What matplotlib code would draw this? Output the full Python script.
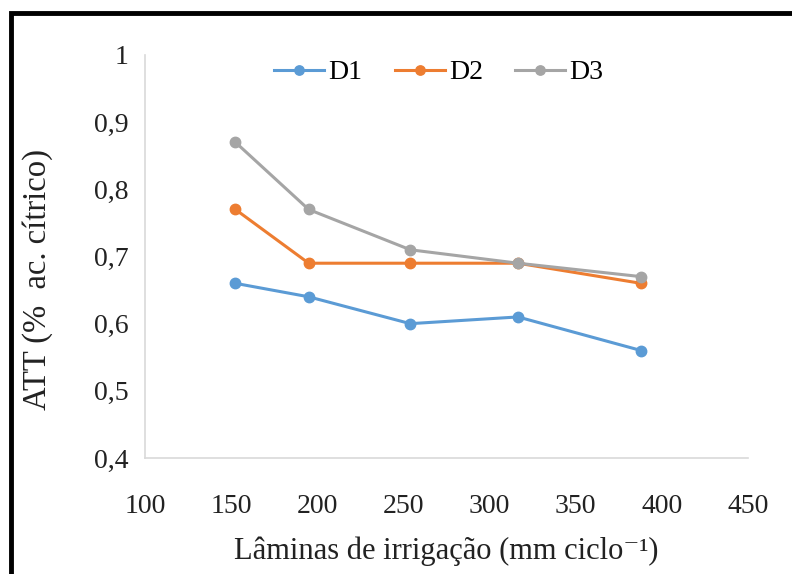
import matplotlib
matplotlib.use('Agg')
import matplotlib.pyplot as plt
from matplotlib.patches import Rectangle

plt.rcParams['font.family'] = ['Liberation Serif', 'DejaVu Serif']

# Lâminas de irrigação (mm ciclo-1)
laminas = [152.5, 195, 254, 316.5, 388]
d1 = [0.66, 0.64, 0.60, 0.61, 0.56]
d2 = [0.77, 0.69, 0.69, 0.69, 0.66]
d3 = [0.87, 0.77, 0.71, 0.69, 0.67]
x_ticks = [100, 150, 200, 250, 300, 350, 400, 450]
y_ticks = [0.4, 0.5, 0.6, 0.7, 0.8, 0.9, 1.0]
y_labels = ['0,4', '0,5', '0,6', '0,7', '0,8', '0,9', '1']

fig = plt.figure(figsize=(7.92, 5.74), dpi=100)
ax = fig.add_axes([0.1831, 0.2021, 0.7613, 0.7021])

ax.plot(laminas, d1, color='#5B9BD5', lw=2.2, marker='o', ms=7.5, label='D1')
ax.plot(laminas, d2, color='#ED7D31', lw=2.2, marker='o', ms=7.5, label='D2')
ax.plot(laminas, d3, color='#A5A5A5', lw=2.2, marker='o', ms=7.5, label='D3')

ax.set_xlim(100, 450)
ax.set_ylim(0.4, 1.0)
ax.set_xticks(x_ticks)
ax.set_yticks(y_ticks)
ax.set_yticklabels(y_labels)
ax.tick_params(length=0, labelsize=20, pad=12, colors='#222222')
ax.tick_params(axis='x', pad=26)

for s in ['top', 'right']:
    ax.spines[s].set_visible(False)
for s in ['left', 'bottom']:
    ax.spines[s].set_color('#D9D9D9')
    ax.spines[s].set_linewidth(1.2)

ax.set_xlabel('Lâminas de irrigação (mm ciclo⁻¹)', fontsize=22, color='#222222')
ax.xaxis.set_label_coords(0.5, -0.195)
ax.set_ylabel('ATT (%  ac. cítrico)', fontsize=23.5, color='#222222')
ax.yaxis.set_label_coords(-0.152, 0.444)

ax.legend(loc='upper center', bbox_to_anchor=(0.487, 1.05), ncol=3, frameon=False,
          fontsize=20, handlelength=1.8, handletextpad=0.15, columnspacing=1.15,
          markerscale=0.9)

# moldura do gráfico
fig.patches.append(Rectangle((0.0135, -0.05), 1.1, 1.028, transform=fig.transFigure,
                             fill=False, edgecolor='black', lw=3.5))

fig.savefig('out.png', dpi=100)
